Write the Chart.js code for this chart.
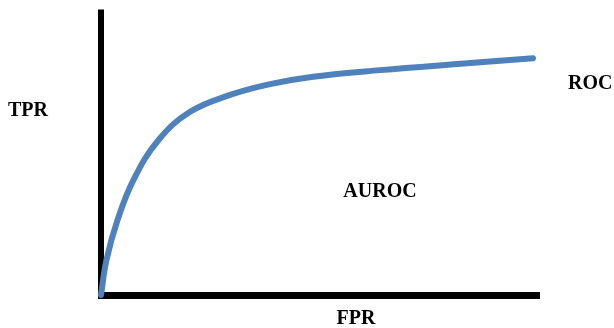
<!DOCTYPE html>
<html>
<head>
<meta charset="utf-8">
<script src="https://cdn.jsdelivr.net/npm/chart.js@4.4.1/dist/chart.umd.min.js"></script>
<style>
  html, body { margin: 0; padding: 0; background: #fff; }
  #wrap { width: 614px; height: 328px; }
</style>
</head>
<body>
<div id="wrap"><canvas id="roc"></canvas></div>
<script>
// ROC curve (FPR, TPR in 0..1)
const fpr = [0, 0.0125, 0.0376, 0.074, 0.131, 0.203, 0.294, 0.385, 0.483, 0.636, 0.834, 0.984];
const tpr = [0, 0.123, 0.263, 0.404, 0.544, 0.643, 0.702, 0.740, 0.766, 0.789, 0.813, 0.831];

const curveLabel = 'ROC';
const areaLabel = 'AUROC';
const xLabel = 'FPR';
const yLabel = 'TPR';

const labelFont = 'bold 20px "Liberation Serif", "Times New Roman", serif';

// thick black axes, drawn under the curve
const axesPlugin = {
  id: 'axes',
  beforeDatasetsDraw(chart) {
    const { ctx, chartArea, scales } = chart;
    const x0 = scales.x.getPixelForValue(0);
    const y0 = scales.y.getPixelForValue(0);
    ctx.save();
    ctx.strokeStyle = '#000';
    ctx.lineCap = 'butt';
    ctx.lineWidth = 6;
    ctx.beginPath();
    ctx.moveTo(x0, chartArea.top - 0.5);
    ctx.lineTo(x0, y0 + 3);
    ctx.stroke();
    ctx.lineWidth = 7;
    ctx.beginPath();
    ctx.moveTo(x0 - 3, y0 + 0.5);
    ctx.lineTo(chartArea.right, y0 + 0.5);
    ctx.stroke();
    ctx.restore();
  }
};

const textPlugin = {
  id: 'labels',
  afterDraw(chart) {
    const { ctx } = chart;
    ctx.save();
    ctx.font = labelFont;
    ctx.fillStyle = '#000';
    ctx.textBaseline = 'middle';
    ctx.textAlign = 'center';
    ctx.fillText(yLabel, 28, 111);
    ctx.fillText(areaLabel, 380, 192);
    ctx.fillText(xLabel, 356, 319);
    ctx.textAlign = 'left';
    ctx.fillText(curveLabel, 568, 84);
    ctx.restore();
  }
};

new Chart(document.getElementById('roc'), {
  type: 'line',
  data: {
    datasets: [{
      label: curveLabel,
      data: fpr.map((v, i) => ({ x: v, y: tpr[i] })),
      borderColor: '#4F81BD',
      borderWidth: 6,
      borderCapStyle: 'round',
      borderJoinStyle: 'round',
      pointRadius: 0,
      fill: false,
      tension: 0.4,
      clip: false
    }]
  },
  options: {
    responsive: true,
    maintainAspectRatio: false,
    animation: false,
    devicePixelRatio: 1,
    layout: { padding: { left: 101, right: 74, top: 10, bottom: 33 } },
    scales: {
      x: { type: 'linear', min: 0, max: 1, display: false },
      y: { type: 'linear', min: 0, max: 1, display: false }
    },
    plugins: {
      legend: { display: false },
      tooltip: { enabled: false }
    }
  },
  plugins: [axesPlugin, textPlugin]
});
</script>
</body>
</html>
